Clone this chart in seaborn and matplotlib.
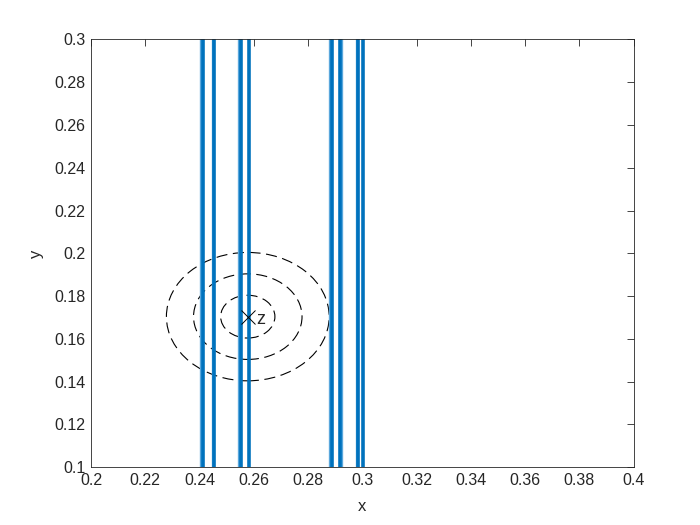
import numpy as np
import pandas as pd
import matplotlib
matplotlib.use('Agg')
import matplotlib.pyplot as plt
from matplotlib.patches import Circle
import seaborn as sns

# vertical strips (x positions), each drawn as a dark line plus a lighter speckle line
strip_x = [0.2452, 0.2553, 0.2581, 0.2917, 0.2985, 0.3003, 0.2413, 0.2887]
speckle_x = [0.2406, 0.2547, 0.2882, 0.2981, 0.2449, 0.2920]
y_range = [0.1, 0.3]

# dashed circles around the point z
z_point = (0.2578, 0.1704)
radii = [0.01, 0.02, 0.03]

sns.set_style('white')
plt.rcParams['font.family'] = ['Liberation Sans', 'DejaVu Sans']

rows = []
for i, xv in enumerate(strip_x):
    for yv in y_range:
        rows.append({'x': xv, 'y': yv, 'line': i})
strips = pd.DataFrame(rows)

rows = []
for i, xv in enumerate(speckle_x):
    for yv in y_range:
        rows.append({'x': xv, 'y': yv, 'line': i})
speckles = pd.DataFrame(rows)

fig = plt.figure(figsize=(7, 5.25), dpi=100)
ax = fig.add_axes([0.13, 0.11, 0.775, 0.815])

sns.lineplot(data=speckles, x='x', y='y', units='line', estimator=None,
             color='#5aa7dc', linewidth=2.4, ax=ax, legend=False)
sns.lineplot(data=strips, x='x', y='y', units='line', estimator=None,
             color='#0072BD', linewidth=2.6, ax=ax, legend=False)

for r in radii:
    ax.add_patch(Circle(z_point, r, fill=False, edgecolor='black',
                        linewidth=0.8, linestyle=(0, (10, 5))))

ax.plot([z_point[0]], [z_point[1]], marker='x', color='black',
        markersize=10, markeredgewidth=0.7, linestyle='none')
ax.text(z_point[0] + 0.0033, z_point[1] - 0.0012, 'z', fontsize=13,
        va='center', ha='left', color='#262626')

ax.set_xlim(0.2, 0.4)
ax.set_ylim(0.1, 0.3)
xt = np.round(np.arange(0.2, 0.4001, 0.02), 2)
yt = np.round(np.arange(0.1, 0.3001, 0.02), 2)
ax.set_xticks(xt)
ax.set_yticks(yt)
ax.set_xticklabels([f'{v:g}' for v in xt])
ax.set_yticklabels([f'{v:g}' for v in yt])
ax.tick_params(direction='in', length=5, width=0.6, top=True, right=True,
               labelsize=11.5, colors='#262626', pad=4)
for s in ax.spines.values():
    s.set_linewidth(0.6)
    s.set_color('#262626')
ax.set_xlabel('x', fontsize=12, color='#262626', labelpad=8)
ax.set_ylabel('y', fontsize=12, color='#262626', labelpad=7)

fig.savefig('out.png', dpi=100)
